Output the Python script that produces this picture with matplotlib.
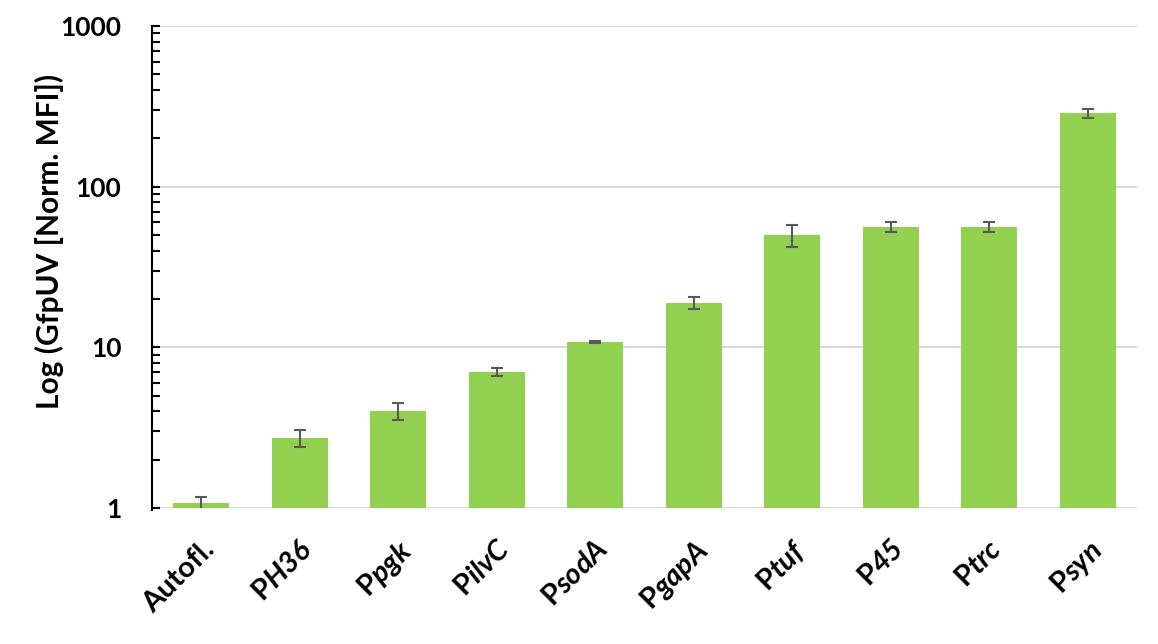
import numpy as np
import matplotlib
matplotlib.use('Agg')
import matplotlib.pyplot as plt
from matplotlib.ticker import LogLocator, NullFormatter, FixedLocator

plt.rcParams['font.family'] = ['Lato', 'DejaVu Sans']
plt.rcParams['mathtext.fontset'] = 'custom'
plt.rcParams['mathtext.rm'] = 'Lato:bold'
plt.rcParams['mathtext.bf'] = 'Lato:bold'
plt.rcParams['mathtext.bfit'] = 'Lato:bold:italic'

# promoter names (P upright, rest italic)
names = ['Autofl.', 'PH36', 'Ppgk', 'PilvC', 'PsodA', 'PgapA', 'Ptuf', 'P45', 'Ptrc', 'Psyn']
values = [1.07, 2.73, 4.02, 7.0, 10.8, 18.9, 50.0, 56.0, 56.0, 287.0]
errors = [0.10, 0.33, 0.48, 0.40, 0.10, 1.7, 7.8, 4.0, 4.0, 18.0]

def fmt_label(n):
    if n.startswith('Auto'):
        return n
    return r'$\mathbf{P}\mathbfit{' + n[1:] + '}$'

fig = plt.figure(figsize=(11.58, 6.44), dpi=100)
ax = fig.add_axes([152/1158, 1-508/644, (1137-152)/1158, (508-26)/644])

x = np.arange(len(names))
ax.bar(x, values, width=0.57, color='#92D050', zorder=3)
ax.errorbar(x, values, yerr=errors, fmt='none', ecolor='#595959',
            elinewidth=1.5, capsize=4, capthick=1.5, zorder=4)

ax.set_yscale('log')
ax.set_ylim(1, 1000)
ax.set_xlim(-0.5, 9.5)
ax.yaxis.set_major_locator(FixedLocator([1, 10, 100, 1000]))
ax.yaxis.set_major_formatter(plt.FuncFormatter(lambda v, p: '%d' % v))
ax.yaxis.set_minor_locator(LogLocator(base=10, subs=np.arange(2, 10)))
ax.yaxis.set_minor_formatter(NullFormatter())
ax.grid(axis='y', which='major', color='#D9D9D9', lw=1.5, zorder=0)

for s in ['top', 'right', 'bottom']:
    ax.spines[s].set_visible(False)
ax.spines['left'].set_linewidth(1.5)
ax.spines['left'].set_bounds(0.97, 1000)
ax.tick_params(axis='y', which='both', direction='in', length=6, width=1.5, pad=22)
ax.tick_params(axis='x', length=0, pad=20)

for lab in ax.get_yticklabels():
    lab.set_fontsize(19)
    lab.set_fontweight('bold')

ax.set_xticks(x)
ax.set_xticklabels([fmt_label(n) for n in names], rotation=45, ha='right',
                   rotation_mode='anchor', fontsize=21, fontweight='bold')

ax.set_ylabel('Log (GfpUV [Norm. MFI])', fontsize=21.5, fontweight='bold')
ax.yaxis.set_label_coords(-0.089, 0.554)

fig.savefig('out.png', dpi=100)
